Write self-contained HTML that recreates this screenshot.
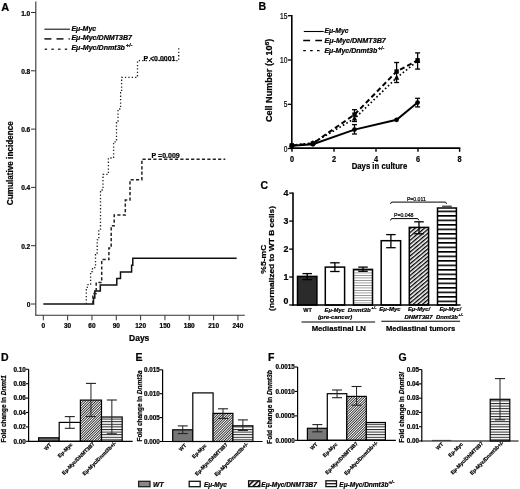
<!DOCTYPE html>
<html><head><meta charset="utf-8"><style>
html,body{margin:0;padding:0;background:#fff;}
svg{display:block;font-family:"Liberation Sans", sans-serif;filter:grayscale(1);}
text{stroke:#000;stroke-width:0.22px;paint-order:stroke;}
</style></head><body>
<svg width="520" height="489" viewBox="0 0 520 489">
<rect width="520" height="489" fill="#fff"/>
<text x="1.20" y="10.90" font-size="11" text-anchor="start" font-weight="bold" font-style="normal" fill="#000">A</text>
<line x1="35.80" y1="1.50" x2="35.80" y2="315.60" stroke="#333" stroke-width="1.1" stroke-linecap="butt"/>
<line x1="35.30" y1="315.20" x2="244.80" y2="315.20" stroke="#333" stroke-width="1.1" stroke-linecap="butt"/>
<line x1="31.00" y1="12.50" x2="35.80" y2="12.50" stroke="#333" stroke-width="1" stroke-linecap="butt"/>
<text x="30.30" y="15.50" font-size="6.6" text-anchor="end" font-weight="bold" font-style="normal" fill="#000">1.0</text>
<line x1="31.00" y1="70.80" x2="35.80" y2="70.80" stroke="#333" stroke-width="1" stroke-linecap="butt"/>
<text x="30.30" y="73.80" font-size="6.6" text-anchor="end" font-weight="bold" font-style="normal" fill="#000">0.8</text>
<line x1="31.00" y1="129.10" x2="35.80" y2="129.10" stroke="#333" stroke-width="1" stroke-linecap="butt"/>
<text x="30.30" y="132.10" font-size="6.6" text-anchor="end" font-weight="bold" font-style="normal" fill="#000">0.6</text>
<line x1="31.00" y1="187.40" x2="35.80" y2="187.40" stroke="#333" stroke-width="1" stroke-linecap="butt"/>
<text x="30.30" y="190.40" font-size="6.6" text-anchor="end" font-weight="bold" font-style="normal" fill="#000">0.4</text>
<line x1="31.00" y1="245.70" x2="35.80" y2="245.70" stroke="#333" stroke-width="1" stroke-linecap="butt"/>
<text x="30.30" y="248.70" font-size="6.6" text-anchor="end" font-weight="bold" font-style="normal" fill="#000">0.2</text>
<line x1="31.00" y1="304.00" x2="35.80" y2="304.00" stroke="#333" stroke-width="1" stroke-linecap="butt"/>
<text x="30.30" y="307.00" font-size="6.6" text-anchor="end" font-weight="bold" font-style="normal" fill="#000">0</text>
<line x1="43.30" y1="315.20" x2="43.30" y2="320.30" stroke="#333" stroke-width="1" stroke-linecap="butt"/>
<text x="43.30" y="327.60" font-size="6.5" text-anchor="middle" font-weight="bold" font-style="normal" fill="#000">0</text>
<line x1="67.63" y1="315.20" x2="67.63" y2="320.30" stroke="#333" stroke-width="1" stroke-linecap="butt"/>
<text x="67.63" y="327.60" font-size="6.5" text-anchor="middle" font-weight="bold" font-style="normal" fill="#000">30</text>
<line x1="91.96" y1="315.20" x2="91.96" y2="320.30" stroke="#333" stroke-width="1" stroke-linecap="butt"/>
<text x="91.96" y="327.60" font-size="6.5" text-anchor="middle" font-weight="bold" font-style="normal" fill="#000">60</text>
<line x1="116.29" y1="315.20" x2="116.29" y2="320.30" stroke="#333" stroke-width="1" stroke-linecap="butt"/>
<text x="116.29" y="327.60" font-size="6.5" text-anchor="middle" font-weight="bold" font-style="normal" fill="#000">90</text>
<line x1="140.62" y1="315.20" x2="140.62" y2="320.30" stroke="#333" stroke-width="1" stroke-linecap="butt"/>
<text x="140.62" y="327.60" font-size="6.5" text-anchor="middle" font-weight="bold" font-style="normal" fill="#000">120</text>
<line x1="164.95" y1="315.20" x2="164.95" y2="320.30" stroke="#333" stroke-width="1" stroke-linecap="butt"/>
<text x="164.95" y="327.60" font-size="6.5" text-anchor="middle" font-weight="bold" font-style="normal" fill="#000">150</text>
<line x1="189.28" y1="315.20" x2="189.28" y2="320.30" stroke="#333" stroke-width="1" stroke-linecap="butt"/>
<text x="189.28" y="327.60" font-size="6.5" text-anchor="middle" font-weight="bold" font-style="normal" fill="#000">180</text>
<line x1="213.61" y1="315.20" x2="213.61" y2="320.30" stroke="#333" stroke-width="1" stroke-linecap="butt"/>
<text x="213.61" y="327.60" font-size="6.5" text-anchor="middle" font-weight="bold" font-style="normal" fill="#000">210</text>
<line x1="237.94" y1="315.20" x2="237.94" y2="320.30" stroke="#333" stroke-width="1" stroke-linecap="butt"/>
<text x="237.94" y="327.60" font-size="6.5" text-anchor="middle" font-weight="bold" font-style="normal" fill="#000">240</text>
<text x="139.20" y="340.80" font-size="8.5" text-anchor="middle" font-weight="bold" font-style="normal" fill="#000">Days</text>
<text x="13.10" y="163.20" font-size="8.5" text-anchor="middle" font-weight="bold" font-style="normal" fill="#000" transform="rotate(-90 13.10 163.20)" textLength="84" lengthAdjust="spacingAndGlyphs">Cumulative incidence</text>
<line x1="44.40" y1="29.20" x2="69.90" y2="29.20" stroke="#111" stroke-width="1.1" stroke-linecap="butt"/>
<line x1="44.40" y1="38.80" x2="69.80" y2="38.80" stroke="#333" stroke-width="1.8" stroke-linecap="butt" stroke-dasharray="7 5.1"/>
<line x1="44.70" y1="49.20" x2="69.80" y2="49.20" stroke="#333" stroke-width="1.6" stroke-linecap="butt" stroke-dasharray="2.4 4.3"/>
<text x="71.40" y="30.80" font-size="7" text-anchor="start" font-weight="bold" font-style="italic" fill="#000">E&#956;-Myc</text>
<text x="71.40" y="40.30" font-size="7.1" text-anchor="start" font-weight="bold" font-style="italic" fill="#000">E&#956;-Myc/DNMT3B7</text>
<text x="71.40" y="50.40" font-size="7.1" text-anchor="start" font-weight="bold" font-style="italic" fill="#000">E&#956;-Myc/Dnmt3b<tspan font-size="5.6" dx="0.8" dy="-3.2">+/-</tspan></text>
<polyline points="43.30,304.00 93.50,304.00 93.50,297.90 94.80,297.90 94.80,291.10 100.30,291.10 100.30,285.00 116.80,285.00 116.80,278.50 120.50,278.50 120.50,272.10 131.60,272.10 131.60,265.30 132.80,265.30 132.80,258.30 236.70,258.30" fill="none" stroke="#111" stroke-width="1.5" stroke-linejoin="miter" stroke-linecap="butt"/>
<polyline points="92.90,304.00 92.90,293.60 96.20,293.60 96.20,282.50 101.70,282.50 101.70,259.60 108.90,259.60 108.90,248.00 111.20,248.00 111.20,225.70 114.20,225.70 114.20,215.00 125.30,215.00 125.30,200.10 130.00,200.10 130.00,179.70 141.90,179.70 141.90,159.20 225.30,159.20" fill="none" stroke="#222" stroke-width="1.5" stroke-linejoin="miter" stroke-linecap="butt" stroke-dasharray="3.2 2.2"/>
<polyline points="86.30,304.00 86.30,287.30 88.00,287.30 88.00,284.00 90.60,284.00 90.60,271.70 92.50,271.70 92.50,267.60 95.50,267.60 95.50,253.00 97.20,253.00 97.20,239.80 98.80,239.80 98.80,230.00 100.50,230.00 100.50,190.00 103.00,190.00 103.00,174.40 108.40,174.40 108.40,158.00 113.60,158.00 113.60,141.80 116.50,141.80 116.50,121.00 118.00,121.00 118.00,109.00 120.60,109.00 120.60,92.70 121.60,92.70 121.60,77.40 137.50,77.40 137.50,60.70 178.70,60.70 178.70,47.30" fill="none" stroke="#222" stroke-width="1.3" stroke-linejoin="miter" stroke-linecap="butt" stroke-dasharray="1.3 2.1"/>
<text x="143.50" y="60.60" font-size="7" text-anchor="start" font-weight="bold" font-style="normal" fill="#000">P &lt;0.0001</text>
<text x="151.60" y="158.40" font-size="7" text-anchor="start" font-weight="bold" font-style="normal" fill="#000">P =0.009</text>
<text x="258.40" y="10.10" font-size="10.6" text-anchor="start" font-weight="bold" font-style="normal" fill="#000">B</text>
<line x1="291.80" y1="15.00" x2="291.80" y2="149.10" stroke="#000" stroke-width="1.6" stroke-linecap="butt"/>
<line x1="287.90" y1="15.70" x2="291.80" y2="15.70" stroke="#000" stroke-width="1.3" stroke-linecap="butt"/>
<text x="287.40" y="18.80" font-size="8.6" text-anchor="end" font-weight="normal" font-style="normal" fill="#000" textLength="7.4" lengthAdjust="spacingAndGlyphs">15</text>
<line x1="287.90" y1="60.00" x2="291.80" y2="60.00" stroke="#000" stroke-width="1.3" stroke-linecap="butt"/>
<text x="287.40" y="63.10" font-size="8.6" text-anchor="end" font-weight="normal" font-style="normal" fill="#000" textLength="7.4" lengthAdjust="spacingAndGlyphs">10</text>
<line x1="287.90" y1="104.30" x2="291.80" y2="104.30" stroke="#000" stroke-width="1.3" stroke-linecap="butt"/>
<text x="287.40" y="107.40" font-size="8.6" text-anchor="end" font-weight="normal" font-style="normal" fill="#000" textLength="3.7" lengthAdjust="spacingAndGlyphs">5</text>
<line x1="287.90" y1="148.50" x2="291.80" y2="148.50" stroke="#000" stroke-width="1.3" stroke-linecap="butt"/>
<text x="287.40" y="151.60" font-size="8.6" text-anchor="end" font-weight="normal" font-style="normal" fill="#000" textLength="3.7" lengthAdjust="spacingAndGlyphs">0</text>
<line x1="291.00" y1="148.20" x2="460.30" y2="148.20" stroke="#000" stroke-width="1.8" stroke-linecap="butt"/>
<line x1="292.00" y1="148.20" x2="292.00" y2="151.80" stroke="#000" stroke-width="1.4" stroke-linecap="butt"/>
<text x="292.00" y="161.50" font-size="8.6" text-anchor="middle" font-weight="bold" font-style="normal" fill="#000" textLength="4.1" lengthAdjust="spacingAndGlyphs">0</text>
<line x1="334.00" y1="148.20" x2="334.00" y2="151.80" stroke="#000" stroke-width="1.4" stroke-linecap="butt"/>
<text x="334.00" y="161.50" font-size="8.6" text-anchor="middle" font-weight="bold" font-style="normal" fill="#000" textLength="4.1" lengthAdjust="spacingAndGlyphs">2</text>
<line x1="376.00" y1="148.20" x2="376.00" y2="151.80" stroke="#000" stroke-width="1.4" stroke-linecap="butt"/>
<text x="376.00" y="161.50" font-size="8.6" text-anchor="middle" font-weight="bold" font-style="normal" fill="#000" textLength="4.1" lengthAdjust="spacingAndGlyphs">4</text>
<line x1="418.00" y1="148.20" x2="418.00" y2="151.80" stroke="#000" stroke-width="1.4" stroke-linecap="butt"/>
<text x="418.00" y="161.50" font-size="8.6" text-anchor="middle" font-weight="bold" font-style="normal" fill="#000" textLength="4.1" lengthAdjust="spacingAndGlyphs">6</text>
<line x1="459.60" y1="148.20" x2="459.60" y2="151.80" stroke="#000" stroke-width="1.4" stroke-linecap="butt"/>
<text x="459.60" y="161.50" font-size="8.6" text-anchor="middle" font-weight="bold" font-style="normal" fill="#000" textLength="4.1" lengthAdjust="spacingAndGlyphs">8</text>
<text x="379.45" y="168.80" font-size="8.6" text-anchor="middle" font-weight="bold" font-style="normal" fill="#000" textLength="55.5" lengthAdjust="spacingAndGlyphs">Days in culture</text>
<text x="272.10" y="80.30" font-size="8.2" text-anchor="middle" font-weight="bold" font-style="normal" fill="#000" transform="rotate(-90 272.10 80.30)" textLength="83.4" lengthAdjust="spacingAndGlyphs">Cell Number (x 10<tspan font-size="6.2" dy="-3.2">6</tspan><tspan dy="3.2">)</tspan></text>
<line x1="303.80" y1="31.50" x2="323.70" y2="31.50" stroke="#000" stroke-width="1.1" stroke-linecap="butt"/>
<line x1="303.20" y1="40.50" x2="322.00" y2="40.50" stroke="#000" stroke-width="1.3" stroke-linecap="butt" stroke-dasharray="6.9 5.2"/>
<line x1="303.20" y1="50.60" x2="320.00" y2="50.60" stroke="#000" stroke-width="1.4" stroke-linecap="butt" stroke-dasharray="2.6 4.3"/>
<text x="324.40" y="33.40" font-size="6.8" text-anchor="start" font-weight="bold" font-style="italic" fill="#000">E&#956;-Myc</text>
<text x="324.40" y="42.80" font-size="7.2" text-anchor="start" font-weight="bold" font-style="italic" fill="#000">E&#956;-Myc/DNMT3B7</text>
<text x="324.40" y="53.00" font-size="7.0" text-anchor="start" font-weight="bold" font-style="italic" fill="#000">E&#956;-Myc/Dnmt3b<tspan font-size="5.4" dx="0.6" dy="-3.0">+/-</tspan></text>
<polyline points="291.80,145.80 312.90,144.30 354.50,129.60 396.60,119.80 417.60,102.60" fill="none" stroke="#000" stroke-width="2.0" stroke-linejoin="miter" stroke-linecap="butt"/>
<polyline points="291.80,145.20 312.90,143.00 354.50,118.60 396.60,77.80 417.60,61.00" fill="none" stroke="#000" stroke-width="1.7" stroke-linejoin="miter" stroke-linecap="butt" stroke-dasharray="1.6 2.4"/>
<polyline points="291.80,145.40 312.90,143.40 354.50,114.60 396.60,71.50 417.60,60.30" fill="none" stroke="#000" stroke-width="2.0" stroke-linejoin="miter" stroke-linecap="butt" stroke-dasharray="5 3"/>
<line x1="354.50" y1="124.60" x2="354.50" y2="134.00" stroke="#000" stroke-width="1.3" stroke-linecap="butt"/>
<line x1="352.00" y1="124.60" x2="357.00" y2="124.60" stroke="#000" stroke-width="1.3" stroke-linecap="butt"/>
<line x1="352.00" y1="134.00" x2="357.00" y2="134.00" stroke="#000" stroke-width="1.3" stroke-linecap="butt"/>
<line x1="417.60" y1="98.30" x2="417.60" y2="106.90" stroke="#000" stroke-width="1.3" stroke-linecap="butt"/>
<line x1="415.10" y1="98.30" x2="420.10" y2="98.30" stroke="#000" stroke-width="1.3" stroke-linecap="butt"/>
<line x1="415.10" y1="106.90" x2="420.10" y2="106.90" stroke="#000" stroke-width="1.3" stroke-linecap="butt"/>
<line x1="354.50" y1="109.70" x2="354.50" y2="121.50" stroke="#000" stroke-width="1.3" stroke-linecap="butt"/>
<line x1="352.00" y1="109.70" x2="357.00" y2="109.70" stroke="#000" stroke-width="1.3" stroke-linecap="butt"/>
<line x1="352.00" y1="121.50" x2="357.00" y2="121.50" stroke="#000" stroke-width="1.3" stroke-linecap="butt"/>
<line x1="396.60" y1="62.50" x2="396.60" y2="82.50" stroke="#000" stroke-width="1.3" stroke-linecap="butt"/>
<line x1="394.10" y1="62.50" x2="399.10" y2="62.50" stroke="#000" stroke-width="1.3" stroke-linecap="butt"/>
<line x1="394.10" y1="82.50" x2="399.10" y2="82.50" stroke="#000" stroke-width="1.3" stroke-linecap="butt"/>
<line x1="417.60" y1="52.90" x2="417.60" y2="69.10" stroke="#000" stroke-width="1.3" stroke-linecap="butt"/>
<line x1="415.10" y1="52.90" x2="420.10" y2="52.90" stroke="#000" stroke-width="1.3" stroke-linecap="butt"/>
<line x1="415.10" y1="69.10" x2="420.10" y2="69.10" stroke="#000" stroke-width="1.3" stroke-linecap="butt"/>
<circle cx="291.8" cy="145.8" r="2.4" fill="#000"/>
<circle cx="312.9" cy="144.3" r="2.4" fill="#000"/>
<circle cx="354.5" cy="129.6" r="2.4" fill="#000"/>
<circle cx="396.6" cy="119.8" r="2.4" fill="#000"/>
<circle cx="417.6" cy="102.6" r="2.4" fill="#000"/>
<rect x="289.6" y="143.20000000000002" width="4.4" height="4.4" fill="#000"/>
<rect x="310.7" y="141.20000000000002" width="4.4" height="4.4" fill="#000"/>
<rect x="352.3" y="112.39999999999999" width="4.4" height="4.4" fill="#000"/>
<rect x="394.40000000000003" y="69.3" width="4.4" height="4.4" fill="#000"/>
<rect x="415.40000000000003" y="58.099999999999994" width="4.4" height="4.4" fill="#000"/>
<polygon points="291.8,142.2 289.1,147.2 294.5,147.2" fill="#000"/>
<polygon points="312.9,140.0 310.2,145.0 315.59999999999997,145.0" fill="#000"/>
<polygon points="354.5,115.6 351.8,120.6 357.2,120.6" fill="#000"/>
<polygon points="396.6,74.8 393.90000000000003,79.8 399.3,79.8" fill="#000"/>
<polygon points="417.6,58.0 414.90000000000003,63.0 420.3,63.0" fill="#000"/>
<defs><pattern id="hC" patternUnits="userSpaceOnUse" width="3.0" height="3.0" patternTransform="rotate(50)"><rect width="3.0" height="3.0" fill="#fff"/><rect x="0" y="0" width="1.35" height="3.0" fill="#000"/></pattern><pattern id="sC" patternUnits="userSpaceOnUse" width="6" height="4.5" y="210.55"><rect width="6" height="4.5" fill="#fff"/><rect y="0" width="6" height="1.6" fill="#000"/></pattern><pattern id="sC3" patternUnits="userSpaceOnUse" width="6" height="2.5"><rect width="6" height="2.5" fill="#fff"/><rect y="0" width="6" height="0.8" fill="#888"/></pattern><pattern id="hD" patternUnits="userSpaceOnUse" width="1.8" height="1.8" patternTransform="rotate(45)"><rect width="1.8" height="1.8" fill="#fff"/><rect x="0" y="0" width="0.85" height="1.8" fill="#222"/></pattern><pattern id="sD" patternUnits="userSpaceOnUse" width="6" height="2.6"><rect width="6" height="2.6" fill="#fff"/><rect y="0" width="6" height="1.0" fill="#222"/></pattern></defs>
<text x="260.40" y="189.30" font-size="10.4" text-anchor="start" font-weight="bold" font-style="normal" fill="#000">C</text>
<line x1="293.00" y1="192.50" x2="293.00" y2="305.60" stroke="#000" stroke-width="1.6" stroke-linecap="butt"/>
<line x1="289.20" y1="193.10" x2="293.00" y2="193.10" stroke="#000" stroke-width="1.3" stroke-linecap="butt"/>
<text x="288.50" y="195.80" font-size="8.8" text-anchor="end" font-weight="bold" font-style="normal" fill="#000">4</text>
<line x1="289.20" y1="221.10" x2="293.00" y2="221.10" stroke="#000" stroke-width="1.3" stroke-linecap="butt"/>
<text x="288.50" y="223.80" font-size="8.8" text-anchor="end" font-weight="bold" font-style="normal" fill="#000">3</text>
<line x1="289.20" y1="249.10" x2="293.00" y2="249.10" stroke="#000" stroke-width="1.3" stroke-linecap="butt"/>
<text x="288.50" y="251.80" font-size="8.8" text-anchor="end" font-weight="bold" font-style="normal" fill="#000">2</text>
<line x1="289.20" y1="277.00" x2="293.00" y2="277.00" stroke="#000" stroke-width="1.3" stroke-linecap="butt"/>
<text x="288.50" y="279.70" font-size="8.8" text-anchor="end" font-weight="bold" font-style="normal" fill="#000">1</text>
<line x1="289.20" y1="305.00" x2="293.00" y2="305.00" stroke="#000" stroke-width="1.3" stroke-linecap="butt"/>
<text x="288.50" y="303.70" font-size="8.8" text-anchor="end" font-weight="bold" font-style="normal" fill="#000">0</text>
<text x="265.60" y="259.15" font-size="7.6" text-anchor="middle" font-weight="bold" font-style="normal" fill="#000" transform="rotate(-90 265.60 259.15)" textLength="29" lengthAdjust="spacingAndGlyphs">%5-mC</text>
<text x="274.20" y="258.40" font-size="7.4" text-anchor="middle" font-weight="bold" font-style="normal" fill="#000" transform="rotate(-90 274.20 258.40)" textLength="105" lengthAdjust="spacingAndGlyphs">(normalized to WT B cells)</text>
<rect x="297.50" y="276.40" width="19.40" height="28.60" fill="#2b2b2b" stroke="#000" stroke-width="1.5"/>
<line x1="307.20" y1="273.60" x2="307.20" y2="279.60" stroke="#000" stroke-width="1.3" stroke-linecap="butt"/>
<line x1="302.45" y1="273.60" x2="311.95" y2="273.60" stroke="#000" stroke-width="1.3" stroke-linecap="butt"/>
<line x1="302.45" y1="279.60" x2="311.95" y2="279.60" stroke="#000" stroke-width="1.3" stroke-linecap="butt"/>
<rect x="325.30" y="267.10" width="19.30" height="37.90" fill="#fff" stroke="#000" stroke-width="1.5"/>
<line x1="334.90" y1="262.80" x2="334.90" y2="271.50" stroke="#000" stroke-width="1.3" stroke-linecap="butt"/>
<line x1="330.15" y1="262.80" x2="339.65" y2="262.80" stroke="#000" stroke-width="1.3" stroke-linecap="butt"/>
<line x1="330.15" y1="271.50" x2="339.65" y2="271.50" stroke="#000" stroke-width="1.3" stroke-linecap="butt"/>
<rect x="353.50" y="269.40" width="19.00" height="35.60" fill="url(#sC3)" stroke="#000" stroke-width="1.5"/>
<line x1="363.00" y1="267.10" x2="363.00" y2="271.30" stroke="#000" stroke-width="1.3" stroke-linecap="butt"/>
<line x1="358.25" y1="267.10" x2="367.75" y2="267.10" stroke="#000" stroke-width="1.3" stroke-linecap="butt"/>
<line x1="358.25" y1="271.30" x2="367.75" y2="271.30" stroke="#000" stroke-width="1.3" stroke-linecap="butt"/>
<rect x="381.20" y="240.70" width="19.40" height="64.30" fill="#fff" stroke="#000" stroke-width="1.5"/>
<line x1="390.90" y1="234.60" x2="390.90" y2="247.70" stroke="#000" stroke-width="1.3" stroke-linecap="butt"/>
<line x1="386.15" y1="234.60" x2="395.65" y2="234.60" stroke="#000" stroke-width="1.3" stroke-linecap="butt"/>
<line x1="386.15" y1="247.70" x2="395.65" y2="247.70" stroke="#000" stroke-width="1.3" stroke-linecap="butt"/>
<rect x="409.30" y="227.40" width="19.30" height="77.60" fill="url(#hC)" stroke="#000" stroke-width="1.5"/>
<line x1="419.00" y1="221.80" x2="419.00" y2="233.80" stroke="#000" stroke-width="1.3" stroke-linecap="butt"/>
<line x1="414.25" y1="221.80" x2="423.75" y2="221.80" stroke="#000" stroke-width="1.3" stroke-linecap="butt"/>
<line x1="414.25" y1="233.80" x2="423.75" y2="233.80" stroke="#000" stroke-width="1.3" stroke-linecap="butt"/>
<rect x="437.50" y="208.00" width="18.90" height="97.00" fill="url(#sC)" stroke="#000" stroke-width="1.5"/>
<line x1="442.20" y1="206.20" x2="451.80" y2="206.20" stroke="#000" stroke-width="1.0" stroke-linecap="butt"/>
<line x1="292.20" y1="305.00" x2="460.50" y2="305.00" stroke="#000" stroke-width="1.7" stroke-linecap="butt"/>
<polyline points="390.50,220.40 391.50,218.60 417.80,218.60 418.90,220.40" fill="none" stroke="#000" stroke-width="1.0" stroke-linejoin="miter" stroke-linecap="butt"/>
<text x="403.75" y="217.30" font-size="5.5" text-anchor="middle" font-weight="normal" font-style="normal" fill="#000" textLength="19.6" lengthAdjust="spacingAndGlyphs">P=0.048</text>
<polyline points="390.50,203.90 391.50,202.10 445.60,202.10 446.60,203.90" fill="none" stroke="#000" stroke-width="1.0" stroke-linejoin="miter" stroke-linecap="butt"/>
<text x="416.35" y="200.50" font-size="5.5" text-anchor="middle" font-weight="normal" font-style="normal" fill="#000" textLength="18.8" lengthAdjust="spacingAndGlyphs">P=0.011</text>
<text x="303.20" y="311.50" font-size="6.1" text-anchor="start" font-weight="bold" font-style="normal" fill="#000" textLength="8.6" lengthAdjust="spacingAndGlyphs">WT</text>
<text x="324.60" y="311.50" font-size="6.0" text-anchor="start" font-weight="bold" font-style="italic" fill="#000" textLength="20.2" lengthAdjust="spacingAndGlyphs">E&#956;-Myc</text>
<text x="317.90" y="319.00" font-size="6.2" text-anchor="start" font-weight="bold" font-style="italic" fill="#000" textLength="34.4" lengthAdjust="spacingAndGlyphs">(pre-cancer)</text>
<text x="347.70" y="311.50" font-size="6.1" text-anchor="start" font-weight="bold" font-style="italic" fill="#000" textLength="23.0" lengthAdjust="spacingAndGlyphs">Dnmt3b</text>
<text x="371.30" y="309.10" font-size="4.2" text-anchor="start" font-weight="bold" font-style="italic" fill="#000">+/-</text>
<text x="379.30" y="311.30" font-size="6.0" text-anchor="start" font-weight="bold" font-style="italic" fill="#000" textLength="21.3" lengthAdjust="spacingAndGlyphs">E&#956;-Myc</text>
<text x="407.90" y="311.20" font-size="6.0" text-anchor="start" font-weight="bold" font-style="italic" fill="#000" textLength="22.1" lengthAdjust="spacingAndGlyphs">E&#956;-Myc/</text>
<text x="404.50" y="318.50" font-size="6.0" text-anchor="start" font-weight="bold" font-style="italic" fill="#000" textLength="28.2" lengthAdjust="spacingAndGlyphs">DNMT3B7</text>
<text x="439.40" y="311.20" font-size="6.0" text-anchor="start" font-weight="bold" font-style="italic" fill="#000" textLength="21.8" lengthAdjust="spacingAndGlyphs">E&#956;-Myc/</text>
<text x="435.90" y="318.50" font-size="6.0" text-anchor="start" font-weight="bold" font-style="italic" fill="#000" textLength="22.0" lengthAdjust="spacingAndGlyphs">Dnmt3b</text>
<text x="458.20" y="316.10" font-size="4.2" text-anchor="start" font-weight="bold" font-style="italic" fill="#000">+/-</text>
<line x1="301.50" y1="322.00" x2="375.10" y2="322.00" stroke="#000" stroke-width="1.1" stroke-linecap="butt"/>
<line x1="381.30" y1="321.30" x2="460.00" y2="321.30" stroke="#000" stroke-width="1.1" stroke-linecap="butt"/>
<text x="338.80" y="330.70" font-size="7.7" text-anchor="middle" font-weight="bold" font-style="normal" fill="#000">Mediastinal LN</text>
<text x="420.60" y="331.00" font-size="7.6" text-anchor="middle" font-weight="bold" font-style="normal" fill="#000">Mediastinal tumors</text>
<text x="1.00" y="360.70" font-size="10.5" text-anchor="start" font-weight="bold" font-style="normal" fill="#000">D</text>
<line x1="28.60" y1="369.30" x2="28.60" y2="441.90" stroke="#000" stroke-width="1.2" stroke-linecap="butt"/>
<line x1="25.80" y1="369.30" x2="28.60" y2="369.30" stroke="#000" stroke-width="1.1" stroke-linecap="butt"/>
<text x="25.70" y="371.50" font-size="6.3" text-anchor="end" font-weight="bold" font-style="normal" fill="#000">0.10</text>
<line x1="25.80" y1="383.70" x2="28.60" y2="383.70" stroke="#000" stroke-width="1.1" stroke-linecap="butt"/>
<text x="25.70" y="385.90" font-size="6.3" text-anchor="end" font-weight="bold" font-style="normal" fill="#000">0.08</text>
<line x1="25.80" y1="398.10" x2="28.60" y2="398.10" stroke="#000" stroke-width="1.1" stroke-linecap="butt"/>
<text x="25.70" y="400.30" font-size="6.3" text-anchor="end" font-weight="bold" font-style="normal" fill="#000">0.06</text>
<line x1="25.80" y1="412.50" x2="28.60" y2="412.50" stroke="#000" stroke-width="1.1" stroke-linecap="butt"/>
<text x="25.70" y="414.70" font-size="6.3" text-anchor="end" font-weight="bold" font-style="normal" fill="#000">0.04</text>
<line x1="25.80" y1="426.90" x2="28.60" y2="426.90" stroke="#000" stroke-width="1.1" stroke-linecap="butt"/>
<text x="25.70" y="429.10" font-size="6.3" text-anchor="end" font-weight="bold" font-style="normal" fill="#000">0.02</text>
<line x1="25.80" y1="441.30" x2="28.60" y2="441.30" stroke="#000" stroke-width="1.1" stroke-linecap="butt"/>
<text x="25.70" y="443.50" font-size="6.3" text-anchor="end" font-weight="bold" font-style="normal" fill="#000">0.00</text>
<text x="5.90" y="408.80" font-size="6.5" text-anchor="middle" font-weight="bold" font-style="normal" fill="#000" transform="rotate(-90 5.90 408.80)" textLength="67.3" lengthAdjust="spacingAndGlyphs">Fold change in <tspan font-style="italic">Dnmt1</tspan></text>
<rect x="38.60" y="437.80" width="20.60" height="3.50" fill="#6a6a6a" stroke="#000" stroke-width="1.2"/>
<rect x="59.20" y="422.40" width="21.20" height="18.90" fill="#fff" stroke="#000" stroke-width="1.2"/>
<rect x="80.40" y="400.10" width="21.10" height="41.20" fill="url(#hD)" stroke="#000" stroke-width="1.2"/>
<rect x="101.50" y="417.00" width="20.70" height="24.30" fill="url(#sD)" stroke="#000" stroke-width="1.2"/>
<line x1="69.80" y1="416.60" x2="69.80" y2="428.30" stroke="#222" stroke-width="1.0" stroke-linecap="butt"/>
<line x1="64.80" y1="416.60" x2="74.80" y2="416.60" stroke="#222" stroke-width="1.1" stroke-linecap="butt"/>
<line x1="64.80" y1="428.30" x2="74.80" y2="428.30" stroke="#222" stroke-width="1.1" stroke-linecap="butt"/>
<line x1="90.95" y1="383.40" x2="90.95" y2="416.60" stroke="#222" stroke-width="1.0" stroke-linecap="butt"/>
<line x1="85.95" y1="383.40" x2="95.95" y2="383.40" stroke="#222" stroke-width="1.1" stroke-linecap="butt"/>
<line x1="85.95" y1="416.60" x2="95.95" y2="416.60" stroke="#222" stroke-width="1.1" stroke-linecap="butt"/>
<line x1="111.85" y1="400.00" x2="111.85" y2="433.80" stroke="#222" stroke-width="1.0" stroke-linecap="butt"/>
<line x1="106.85" y1="400.00" x2="116.85" y2="400.00" stroke="#222" stroke-width="1.1" stroke-linecap="butt"/>
<line x1="106.85" y1="433.80" x2="116.85" y2="433.80" stroke="#222" stroke-width="1.1" stroke-linecap="butt"/>
<line x1="28.00" y1="441.30" x2="132.70" y2="441.30" stroke="#000" stroke-width="1.15" stroke-linecap="butt"/>
<text x="51.80" y="445.10" font-size="5.1" text-anchor="end" font-weight="bold" font-style="normal" fill="#000" transform="rotate(-45 51.80 445.10)">WT</text>
<text x="72.70" y="445.10" font-size="5.1" text-anchor="end" font-weight="bold" font-style="normal" fill="#000" transform="rotate(-45 72.70 445.10)">E&#956;-Myc</text>
<text x="94.85" y="444.30" font-size="5.1" text-anchor="end" font-weight="bold" font-style="normal" fill="#000" transform="rotate(-45 94.85 444.30)">E&#956;-Myc/DNMT3B7</text>
<text x="116.55" y="443.70" font-size="5.2" text-anchor="end" font-weight="bold" font-style="normal" fill="#000" transform="rotate(-45 116.55 443.70)">E&#956;-Myc/Dnmt3b+/-</text>
<text x="135.40" y="360.70" font-size="10.5" text-anchor="start" font-weight="bold" font-style="normal" fill="#000">E</text>
<line x1="162.60" y1="369.80" x2="162.60" y2="442.10" stroke="#000" stroke-width="1.2" stroke-linecap="butt"/>
<line x1="159.80" y1="369.80" x2="162.60" y2="369.80" stroke="#000" stroke-width="1.1" stroke-linecap="butt"/>
<text x="159.70" y="372.00" font-size="6.3" text-anchor="end" font-weight="bold" font-style="normal" fill="#000">0.015</text>
<line x1="159.80" y1="393.70" x2="162.60" y2="393.70" stroke="#000" stroke-width="1.1" stroke-linecap="butt"/>
<text x="159.70" y="395.90" font-size="6.3" text-anchor="end" font-weight="bold" font-style="normal" fill="#000">0.010</text>
<line x1="159.80" y1="417.60" x2="162.60" y2="417.60" stroke="#000" stroke-width="1.1" stroke-linecap="butt"/>
<text x="159.70" y="419.80" font-size="6.3" text-anchor="end" font-weight="bold" font-style="normal" fill="#000">0.005</text>
<line x1="159.80" y1="441.50" x2="162.60" y2="441.50" stroke="#000" stroke-width="1.1" stroke-linecap="butt"/>
<text x="159.70" y="443.70" font-size="6.3" text-anchor="end" font-weight="bold" font-style="normal" fill="#000">0.000</text>
<text x="141.90" y="406.00" font-size="6.5" text-anchor="middle" font-weight="bold" font-style="normal" fill="#000" transform="rotate(-90 141.90 406.00)" textLength="71" lengthAdjust="spacingAndGlyphs">Fold change in <tspan font-style="italic">Dnmt3a</tspan></text>
<rect x="172.70" y="429.80" width="20.10" height="11.70" fill="#777" stroke="#000" stroke-width="1.2"/>
<rect x="192.80" y="392.90" width="20.30" height="48.60" fill="#fff" stroke="#000" stroke-width="1.2"/>
<rect x="213.10" y="413.40" width="19.80" height="28.10" fill="url(#hD)" stroke="#000" stroke-width="1.2"/>
<rect x="232.90" y="425.80" width="20.00" height="15.70" fill="url(#sD)" stroke="#000" stroke-width="1.2"/>
<line x1="182.75" y1="425.90" x2="182.75" y2="433.60" stroke="#222" stroke-width="1.0" stroke-linecap="butt"/>
<line x1="177.75" y1="425.90" x2="187.75" y2="425.90" stroke="#222" stroke-width="1.1" stroke-linecap="butt"/>
<line x1="177.75" y1="433.60" x2="187.75" y2="433.60" stroke="#222" stroke-width="1.1" stroke-linecap="butt"/>
<line x1="223.00" y1="408.80" x2="223.00" y2="418.50" stroke="#222" stroke-width="1.0" stroke-linecap="butt"/>
<line x1="218.00" y1="408.80" x2="228.00" y2="408.80" stroke="#222" stroke-width="1.1" stroke-linecap="butt"/>
<line x1="218.00" y1="418.50" x2="228.00" y2="418.50" stroke="#222" stroke-width="1.1" stroke-linecap="butt"/>
<line x1="242.90" y1="419.90" x2="242.90" y2="430.40" stroke="#222" stroke-width="1.0" stroke-linecap="butt"/>
<line x1="237.90" y1="419.90" x2="247.90" y2="419.90" stroke="#222" stroke-width="1.1" stroke-linecap="butt"/>
<line x1="237.90" y1="430.40" x2="247.90" y2="430.40" stroke="#222" stroke-width="1.1" stroke-linecap="butt"/>
<line x1="162.00" y1="441.50" x2="262.60" y2="441.50" stroke="#000" stroke-width="1.15" stroke-linecap="butt"/>
<text x="186.65" y="445.90" font-size="5.1" text-anchor="end" font-weight="bold" font-style="normal" fill="#000" transform="rotate(-45 186.65 445.90)">WT</text>
<text x="206.85" y="445.90" font-size="5.1" text-anchor="end" font-weight="bold" font-style="normal" fill="#000" transform="rotate(-45 206.85 445.90)">E&#956;-Myc</text>
<text x="227.90" y="445.10" font-size="5.1" text-anchor="end" font-weight="bold" font-style="normal" fill="#000" transform="rotate(-45 227.90 445.10)">E&#956;-Myc/DNMT3B7</text>
<text x="248.60" y="444.50" font-size="5.2" text-anchor="end" font-weight="bold" font-style="normal" fill="#000" transform="rotate(-45 248.60 444.50)">E&#956;-Myc/Dnmt3b+/-</text>
<text x="268.00" y="360.70" font-size="10.5" text-anchor="start" font-weight="bold" font-style="normal" fill="#000">F</text>
<line x1="297.60" y1="367.00" x2="297.60" y2="440.90" stroke="#000" stroke-width="1.2" stroke-linecap="butt"/>
<line x1="294.80" y1="367.00" x2="297.60" y2="367.00" stroke="#000" stroke-width="1.1" stroke-linecap="butt"/>
<text x="294.70" y="369.20" font-size="6.3" text-anchor="end" font-weight="bold" font-style="normal" fill="#000">0.0015</text>
<line x1="294.80" y1="391.43" x2="297.60" y2="391.43" stroke="#000" stroke-width="1.1" stroke-linecap="butt"/>
<text x="294.70" y="393.63" font-size="6.3" text-anchor="end" font-weight="bold" font-style="normal" fill="#000">0.0010</text>
<line x1="294.80" y1="415.87" x2="297.60" y2="415.87" stroke="#000" stroke-width="1.1" stroke-linecap="butt"/>
<text x="294.70" y="418.07" font-size="6.3" text-anchor="end" font-weight="bold" font-style="normal" fill="#000">0.0005</text>
<line x1="294.80" y1="440.30" x2="297.60" y2="440.30" stroke="#000" stroke-width="1.1" stroke-linecap="butt"/>
<text x="294.70" y="442.50" font-size="6.3" text-anchor="end" font-weight="bold" font-style="normal" fill="#000">0.0000</text>
<text x="272.30" y="407.00" font-size="6.5" text-anchor="middle" font-weight="bold" font-style="normal" fill="#000" transform="rotate(-90 272.30 407.00)" textLength="73.8" lengthAdjust="spacingAndGlyphs">Fold change in <tspan font-style="italic">Dnmt3b</tspan></text>
<rect x="307.40" y="428.30" width="19.90" height="12.00" fill="#777" stroke="#000" stroke-width="1.2"/>
<rect x="327.30" y="393.70" width="19.50" height="46.60" fill="#fff" stroke="#000" stroke-width="1.2"/>
<rect x="346.80" y="396.40" width="19.50" height="43.90" fill="url(#hD)" stroke="#000" stroke-width="1.2"/>
<rect x="366.30" y="422.50" width="19.10" height="17.80" fill="url(#sD)" stroke="#000" stroke-width="1.2"/>
<line x1="317.35" y1="424.60" x2="317.35" y2="431.80" stroke="#222" stroke-width="1.0" stroke-linecap="butt"/>
<line x1="312.35" y1="424.60" x2="322.35" y2="424.60" stroke="#222" stroke-width="1.1" stroke-linecap="butt"/>
<line x1="312.35" y1="431.80" x2="322.35" y2="431.80" stroke="#222" stroke-width="1.1" stroke-linecap="butt"/>
<line x1="337.05" y1="390.00" x2="337.05" y2="397.70" stroke="#222" stroke-width="1.0" stroke-linecap="butt"/>
<line x1="332.05" y1="390.00" x2="342.05" y2="390.00" stroke="#222" stroke-width="1.1" stroke-linecap="butt"/>
<line x1="332.05" y1="397.70" x2="342.05" y2="397.70" stroke="#222" stroke-width="1.1" stroke-linecap="butt"/>
<line x1="356.55" y1="386.50" x2="356.55" y2="405.20" stroke="#222" stroke-width="1.0" stroke-linecap="butt"/>
<line x1="351.55" y1="386.50" x2="361.55" y2="386.50" stroke="#222" stroke-width="1.1" stroke-linecap="butt"/>
<line x1="351.55" y1="405.20" x2="361.55" y2="405.20" stroke="#222" stroke-width="1.1" stroke-linecap="butt"/>
<line x1="297.00" y1="440.30" x2="395.90" y2="440.30" stroke="#000" stroke-width="1.15" stroke-linecap="butt"/>
<text x="317.95" y="444.70" font-size="5.1" text-anchor="end" font-weight="bold" font-style="normal" fill="#000" transform="rotate(-45 317.95 444.70)">WT</text>
<text x="337.65" y="444.70" font-size="5.1" text-anchor="end" font-weight="bold" font-style="normal" fill="#000" transform="rotate(-45 337.65 444.70)">E&#956;-Myc</text>
<text x="358.15" y="443.90" font-size="5.1" text-anchor="end" font-weight="bold" font-style="normal" fill="#000" transform="rotate(-45 358.15 443.90)">E&#956;-Myc/DNMT3B7</text>
<text x="378.25" y="443.30" font-size="5.2" text-anchor="end" font-weight="bold" font-style="normal" fill="#000" transform="rotate(-45 378.25 443.30)">E&#956;-Myc/Dnmt3b+/-</text>
<text x="398.60" y="360.70" font-size="10.5" text-anchor="start" font-weight="bold" font-style="normal" fill="#000">G</text>
<line x1="421.80" y1="369.60" x2="421.80" y2="441.60" stroke="#000" stroke-width="1.2" stroke-linecap="butt"/>
<line x1="419.00" y1="369.60" x2="421.80" y2="369.60" stroke="#000" stroke-width="1.1" stroke-linecap="butt"/>
<text x="418.90" y="371.80" font-size="6.3" text-anchor="end" font-weight="bold" font-style="normal" fill="#000">0.05</text>
<line x1="419.00" y1="383.88" x2="421.80" y2="383.88" stroke="#000" stroke-width="1.1" stroke-linecap="butt"/>
<text x="418.90" y="386.08" font-size="6.3" text-anchor="end" font-weight="bold" font-style="normal" fill="#000">0.04</text>
<line x1="419.00" y1="398.16" x2="421.80" y2="398.16" stroke="#000" stroke-width="1.1" stroke-linecap="butt"/>
<text x="418.90" y="400.36" font-size="6.3" text-anchor="end" font-weight="bold" font-style="normal" fill="#000">0.03</text>
<line x1="419.00" y1="412.44" x2="421.80" y2="412.44" stroke="#000" stroke-width="1.1" stroke-linecap="butt"/>
<text x="418.90" y="414.64" font-size="6.3" text-anchor="end" font-weight="bold" font-style="normal" fill="#000">0.02</text>
<line x1="419.00" y1="426.72" x2="421.80" y2="426.72" stroke="#000" stroke-width="1.1" stroke-linecap="butt"/>
<text x="418.90" y="428.92" font-size="6.3" text-anchor="end" font-weight="bold" font-style="normal" fill="#000">0.01</text>
<line x1="419.00" y1="441.00" x2="421.80" y2="441.00" stroke="#000" stroke-width="1.1" stroke-linecap="butt"/>
<text x="418.90" y="443.20" font-size="6.3" text-anchor="end" font-weight="bold" font-style="normal" fill="#000">0.00</text>
<text x="404.20" y="407.30" font-size="6.5" text-anchor="middle" font-weight="bold" font-style="normal" fill="#000" transform="rotate(-90 404.20 407.30)" textLength="70.7" lengthAdjust="spacingAndGlyphs">Fold change in <tspan font-style="italic">Dnmt3l</tspan></text>
<rect x="490.20" y="399.30" width="19.60" height="41.70" fill="url(#sD)" stroke="#000" stroke-width="1.2"/>
<line x1="500.00" y1="378.60" x2="500.00" y2="419.80" stroke="#222" stroke-width="1.0" stroke-linecap="butt"/>
<line x1="495.00" y1="378.60" x2="505.00" y2="378.60" stroke="#222" stroke-width="1.1" stroke-linecap="butt"/>
<line x1="495.00" y1="419.80" x2="505.00" y2="419.80" stroke="#222" stroke-width="1.1" stroke-linecap="butt"/>
<line x1="421.20" y1="441.00" x2="518.60" y2="441.00" stroke="#000" stroke-width="1.15" stroke-linecap="butt"/>
<text x="443.70" y="444.60" font-size="5.1" text-anchor="end" font-weight="bold" font-style="normal" fill="#000" transform="rotate(-45 443.70 444.60)">WT</text>
<text x="463.20" y="444.60" font-size="5.1" text-anchor="end" font-weight="bold" font-style="normal" fill="#000" transform="rotate(-45 463.20 444.60)">E&#956;-Myc</text>
<text x="483.55" y="443.80" font-size="5.1" text-anchor="end" font-weight="bold" font-style="normal" fill="#000" transform="rotate(-45 483.55 443.80)">E&#956;-Myc/DNMT3B7</text>
<text x="504.00" y="443.20" font-size="5.2" text-anchor="end" font-weight="bold" font-style="normal" fill="#000" transform="rotate(-45 504.00 443.20)">E&#956;-Myc/Dnmt3b+/-</text>
<line x1="432.00" y1="440.40" x2="451.20" y2="440.40" stroke="#333" stroke-width="0.9" stroke-linecap="butt"/>
<line x1="471.00" y1="440.70" x2="490.00" y2="440.70" stroke="#666" stroke-width="0.5" stroke-linecap="butt"/>
<rect x="138.60" y="481.30" width="11.40" height="5.40" fill="#888" stroke="#222" stroke-width="1.3"/>
<text x="153.00" y="486.80" font-size="6.8" text-anchor="start" font-weight="bold" font-style="italic" fill="#000">WT</text>
<rect x="189.20" y="481.30" width="11.00" height="5.40" fill="#fff" stroke="#111" stroke-width="1.3"/>
<text x="203.90" y="486.80" font-size="6.5" text-anchor="start" font-weight="bold" font-style="italic" fill="#000">E&#956;-Myc</text>
<pattern id="hL" patternUnits="userSpaceOnUse" width="3.6" height="3.6" patternTransform="rotate(45)"><rect width="3.6" height="3.6" fill="#fff"/><rect width="1.6" height="3.6" fill="#111"/></pattern>
<rect x="248.60" y="480.80" width="11.20" height="5.80" fill="url(#hL)" stroke="#111" stroke-width="1.3"/>
<text x="261.30" y="486.80" font-size="6.5" text-anchor="start" font-weight="bold" font-style="italic" fill="#000">E&#956;-Myc/DNMT3B7</text>
<rect x="325.90" y="480.80" width="10.60" height="5.80" fill="#fff" stroke="#111" stroke-width="1.3"/>
<line x1="325.90" y1="483.70" x2="336.50" y2="483.70" stroke="#111" stroke-width="1.3" stroke-linecap="butt"/>
<text x="339.30" y="486.80" font-size="6.5" text-anchor="start" font-weight="bold" font-style="italic" fill="#000">E&#956;-Myc/Dnmt3b<tspan font-size="5" dy="-2.6">+/-</tspan></text>
</svg></body></html>
